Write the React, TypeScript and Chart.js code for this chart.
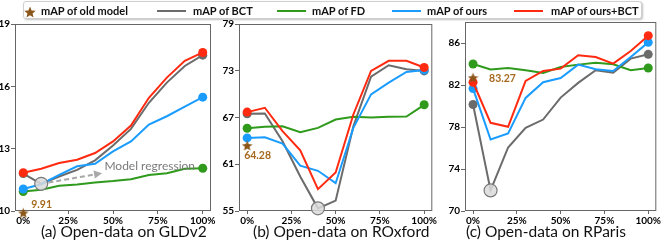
import React, { useEffect, useRef } from 'react';
import { Chart, registerables } from 'chart.js';
Chart.register(...registerables);

const FONT = 'Lato, "Open Sans", "Liberation Sans", sans-serif';

// ---------- data ----------
const xValues = [0, 10, 20, 30, 40, 50, 60, 70, 80, 90, 100];
const xTickValues = [0, 25, 50, 75, 100];

// (a) GLDv2
const gldTicks = [10, 13, 16, 19];
const gldBCT = [11.8, 11.31, 11.66, 11.98, 12.44, 13.15, 13.95, 15.21, 16.18, 16.98, 17.5];
const gldFD = [10.94, 11.02, 11.21, 11.27, 11.37, 11.44, 11.53, 11.73, 11.82, 12.03, 12.06];
const gldOurs = [11.06, 11.29, 11.74, 12.15, 12.27, 12.87, 13.35, 14.16, 14.56, 15.02, 15.48];
const gldOursBCT = [11.84, 12.03, 12.31, 12.47, 12.79, 13.35, 14.11, 15.45, 16.42, 17.23, 17.63];
const gldOld = 9.91;

// (b) ROxford
const oxfTicks = [55, 61, 67, 73, 79];
const oxfBCT = [67.47, 67.52, 63.95, 59.43, 55.34, 56.33, 65.88, 72.25, 73.71, 73.19, 72.98];
const oxfFD = [65.62, 65.8, 65.88, 65.11, 65.67, 66.74, 67.09, 67.0, 67.09, 67.13, 68.63];
const oxfOurs = [64.38, 64.46, 63.65, 60.81, 60.16, 58.57, 65.67, 69.97, 71.47, 72.85, 73.1];
const oxfOursBCT = [67.69, 68.25, 65.24, 62.78, 57.8, 59.95, 67.39, 72.98, 74.27, 74.27, 73.41];
const oxfOld = 63.4;

// (c) RParis
const parTicks = [70, 74, 78, 82, 86];
const parBCT = [80.14, 71.96, 76.05, 77.92, 78.71, 80.8, 82.2, 83.4, 83.18, 84.51, 84.92];
const parFD = [84.0, 83.47, 83.62, 83.4, 83.15, 83.72, 83.94, 84.13, 83.97, 83.4, 83.62];
const parOurs = [81.66, 76.81, 77.38, 80.77, 82.26, 82.67, 83.94, 83.5, 83.34, 84.67, 86.06];
const parOursBCT = [82.26, 78.4, 78.02, 82.39, 83.34, 83.56, 84.83, 84.67, 84.04, 85.24, 86.7];
const parOld = 82.7;

const legendLabels = ['mAP of old model', 'mAP of BCT', 'mAP of FD', 'mAP of ours', 'mAP of ours+BCT'];

// ---------- styles ----------
const C_BCT = '#6b6b6b';
const C_FD = '#2f9a1c';
const C_OURS = '#1a9cff';
const C_OURSBCT = '#ff2a10';
const C_STAR = '#8b561a';
const C_STARTXT = '#a5691f';

type PanelCfg = {
  title: string; titleLeft: number;
  canvasLeft: number; canvasTop: number; canvasW: number;
  plotL: number; plotR: number; plotT: number; plotB: number;
  yMin: number; yMax: number; yTicks: number[];
  bct: number[]; fd: number[]; ours: number[]; oursBct: number[];
  regIdx: number; old: number; oldLabel: string; labelDx: number; labelDy: number;
  arrow?: { from: [number, number]; to: [number, number]; text: string; textAt: [number, number] };
};

const panels: PanelCfg[] = [
  {
    title: '(a) Open-data on GLDv2', titleLeft: 41,
    canvasLeft: 0, canvasTop: 14, canvasW: 222,
    plotL: 15, plotR: 211, plotT: 24, plotB: 211,
    yMin: 10, yMax: 19, yTicks: gldTicks,
    bct: gldBCT, fd: gldFD, ours: gldOurs, oursBct: gldOursBCT,
    regIdx: 1, old: gldOld, oldLabel: '9.91', labelDx: 8, labelDy: -8,
    arrow: { from: [14, 11.37], to: [43.9, 11.82], text: 'Model regression', textAt: [45.2, 12.15] },
  },
  {
    title: '(b) Open-data on ROxford', titleLeft: 253,
    canvasLeft: 222, canvasTop: 14, canvasW: 218,
    plotL: 239, plotR: 435, plotT: 24, plotB: 211,
    yMin: 55, yMax: 79, yTicks: oxfTicks,
    bct: oxfBCT, fd: oxfFD, ours: oxfOurs, oursBct: oxfOursBCT,
    regIdx: 4, old: oxfOld, oldLabel: '64.28', labelDx: -3, labelDy: 10,
  },
  {
    title: '(c) Open-data on RParis', titleLeft: 466,
    canvasLeft: 440, canvasTop: 12, canvasW: 224,
    plotL: 465, plotR: 660, plotT: 22, plotB: 211,
    yMin: 70, yMax: 88, yTicks: parTicks,
    bct: parBCT, fd: parFD, ours: parOurs, oursBct: parOursBCT,
    regIdx: 1, old: parOld, oldLabel: '83.27', labelDx: 16, labelDy: 1,
  },
];

function makeStar(size: number, color: string) {
  const c = document.createElement('canvas');
  c.width = size; c.height = size;
  const ctx = c.getContext('2d')!;
  const cx = size / 2, cy = size / 2 + 0.6, R = size / 2, r = R * 0.45;
  ctx.beginPath();
  for (let i = 0; i < 10; i++) {
    const a = -Math.PI / 2 + (i * Math.PI) / 5;
    const rad = i % 2 === 0 ? R : r;
    ctx.lineTo(cx + rad * Math.cos(a), cy + rad * Math.sin(a));
  }
  ctx.closePath();
  ctx.fillStyle = color;
  ctx.fill();
  return c;
}

const pts = (vals: number[]) => vals.map((v, i) => ({ x: xValues[i], y: v }));
const endRadii = (vals: number[]) => vals.map((_, i) => (i === 0 || i === vals.length - 1 ? 4.5 : 0));

function Panel({ p }: { p: PanelCfg }) {
  const ref = useRef<HTMLCanvasElement>(null);
  const X_AXIS_H = 17;
  const canvasH = p.plotB - p.canvasTop + X_AXIS_H;
  useEffect(() => {
    const star = makeStar(11, C_STAR);
    const line = (vals: number[], color: string, order: number) => ({
      data: pts(vals), borderColor: color, backgroundColor: color, borderWidth: 2,
      pointRadius: endRadii(vals), pointHoverRadius: 0, pointBackgroundColor: color,
      pointBorderWidth: 0, tension: 0, clip: false, order, fill: false,
    });
    const boxPlugin = {
      id: 'box',
      beforeDatasetsDraw(chart: any) {
        const { ctx, chartArea: a } = chart;
        ctx.save();
        ctx.strokeStyle = '#666';
        ctx.lineWidth = 1;
        ctx.strokeRect(a.left + 0.5, a.top + 0.5, a.right - a.left - 1, a.bottom - a.top - 1);
        ctx.restore();
      },
      afterDatasetsDraw(chart: any) {
        const { ctx, scales } = chart;
        const xs = scales.x, ys = scales.y;
        ctx.save();
        ctx.font = `bold 10.5px ${FONT}`;
        ctx.fillStyle = C_STARTXT;
        ctx.textBaseline = 'middle';
        ctx.textAlign = 'left';
        ctx.fillText(p.oldLabel, xs.getPixelForValue(0) + p.labelDx, ys.getPixelForValue(p.old) + p.labelDy);
        if (p.arrow) {
          const x1 = xs.getPixelForValue(p.arrow.from[0]), y1 = ys.getPixelForValue(p.arrow.from[1]);
          const x2 = xs.getPixelForValue(p.arrow.to[0]), y2 = ys.getPixelForValue(p.arrow.to[1]);
          const ang = Math.atan2(y2 - y1, x2 - x1);
          const hl = 8, hw = 4;
          const bx = x2 - hl * Math.cos(ang), by = y2 - hl * Math.sin(ang);
          ctx.strokeStyle = '#a8a8a8';
          ctx.fillStyle = '#a8a8a8';
          ctx.lineWidth = 2;
          ctx.setLineDash([5, 3]);
          ctx.beginPath(); ctx.moveTo(x1, y1); ctx.lineTo(bx, by); ctx.stroke();
          ctx.setLineDash([]);
          ctx.beginPath();
          ctx.moveTo(x2, y2);
          ctx.lineTo(bx + hw * Math.sin(ang), by - hw * Math.cos(ang));
          ctx.lineTo(bx - hw * Math.sin(ang), by + hw * Math.cos(ang));
          ctx.closePath(); ctx.fill();
          ctx.font = `12px ${FONT}`;
          ctx.fillStyle = '#7a7a7a';
          ctx.fillText(p.arrow.text, xs.getPixelForValue(p.arrow.textAt[0]), ys.getPixelForValue(p.arrow.textAt[1]));
        }
        ctx.restore();
      },
    };
    const tickFont = { family: FONT, size: 10, weight: 'bold' as const };
    const chart = new Chart(ref.current!, {
      type: 'line',
      data: {
        datasets: [
          {
            data: [{ x: xValues[p.regIdx], y: p.bct[p.regIdx] }], showLine: false,
            pointRadius: 6.5, pointHoverRadius: 0, pointBackgroundColor: 'rgba(218,218,218,0.85)',
            pointBorderColor: '#7a7a7a', pointBorderWidth: 1.2, clip: false, order: 0,
          } as any,
          {
            data: [{ x: 0, y: p.old }], showLine: false, pointStyle: star, pointRadius: 6,
            pointHoverRadius: 0, clip: false, order: 0,
          } as any,
          line(p.oursBct, C_OURSBCT, 1),
          line(p.ours, C_OURS, 2),
          line(p.fd, C_FD, 3),
          line(p.bct, C_BCT, 4),
        ],
      },
      options: {
        responsive: false,
        animation: false,
        events: [],
        layout: {
          padding: {
            left: 0, bottom: 0,
            top: p.plotT - p.canvasTop,
            right: p.canvasLeft + p.canvasW - p.plotR,
          },
        },
        plugins: { legend: { display: false }, tooltip: { enabled: false }, title: { display: false } },
        scales: {
          x: {
            type: 'linear', min: -4.6, max: 104.6,
            afterBuildTicks: (axis: any) => { axis.ticks = xTickValues.map((v) => ({ value: v })); },
            afterFit: (s: any) => { s.height = X_AXIS_H; s.paddingLeft = 0; s.paddingRight = 0; },
            ticks: { callback: (v: any) => `${v}%`, font: tickFont, color: '#000', padding: 1, maxRotation: 0, autoSkip: false },
            grid: { drawOnChartArea: false, drawTicks: true, tickLength: 3, color: '#666' },
            border: { display: false },
          },
          y: {
            type: 'linear', min: p.yMin, max: p.yMax,
            afterBuildTicks: (axis: any) => { axis.ticks = p.yTicks.map((v) => ({ value: v })); },
            afterFit: (s: any) => { s.width = p.plotL - p.canvasLeft; s.paddingTop = 0; s.paddingBottom = 0; },
            ticks: { font: tickFont, color: '#000', padding: 1, autoSkip: false },
            grid: { drawOnChartArea: false, drawTicks: true, tickLength: 4, color: '#666' },
            border: { display: false },
          },
        },
      } as any,
      plugins: [boxPlugin],
    });
    return () => chart.destroy();
  }, []);
  return (
    <canvas
      ref={ref}
      width={p.canvasW}
      height={canvasH}
      style={{ position: 'absolute', left: p.canvasLeft, top: p.canvasTop, width: p.canvasW, height: canvasH }}
    />
  );
}

function LegendLine({ left, color }: { left: number; color: string }) {
  return <div style={{ position: 'absolute', left, top: 10, width: 29, height: 2, background: color }} />;
}
function LegendText({ left, text }: { left: number; text: string }) {
  return (
    <div style={{ position: 'absolute', left, top: 4.7, fontSize: 11, lineHeight: '12px', fontWeight: 'bold', whiteSpace: 'nowrap', color: '#111' }}>
      {text}
    </div>
  );
}

function Legend() {
  return (
    <>
      <div style={{ position: 'absolute', left: 23, top: 1, width: 617, height: 16, border: '1px solid #cfcfcf', borderRadius: 3, background: '#fff', boxShadow: '1px 1px 2px rgba(0,0,0,0.25)' }} />
      <svg style={{ position: 'absolute', left: 24, top: 6 }} width={12} height={12} viewBox="0 0 12 12">
        <polygon
          fill={C_STAR}
          points={Array.from({ length: 10 }, (_, i) => {
            const a = -Math.PI / 2 + (i * Math.PI) / 5;
            const r = i % 2 === 0 ? 6 : 2.7;
            return `${6 + r * Math.cos(a)},${6.6 + r * Math.sin(a)}`;
          }).join(' ')}
        />
      </svg>
      <LegendText left={41} text={legendLabels[0]} />
      <LegendLine left={157} color={C_BCT} />
      <LegendText left={193} text={legendLabels[1]} />
      <LegendLine left={277} color={C_FD} />
      <LegendText left={312} text={legendLabels[2]} />
      <LegendLine left={392} color={C_OURS} />
      <LegendText left={427} text={legendLabels[3]} />
      <LegendLine left={514} color={C_OURSBCT} />
      <LegendText left={551} text={legendLabels[4]} />
    </>
  );
}

export default function App() {
  return (
    <div style={{ position: 'absolute', left: 0, top: 0, width: 664, height: 244, background: '#fff', overflow: 'hidden', fontFamily: FONT }}>
      {panels.map((p) => (
        <Panel key={p.title} p={p} />
      ))}
      {panels.map((p) => (
        <div key={'t' + p.title} style={{ position: 'absolute', left: p.titleLeft, top: 222.5, fontSize: 15.5, lineHeight: '16px', fontWeight: 'normal', whiteSpace: 'nowrap', color: '#111' }}>
          {p.title}
        </div>
      ))}
      <Legend />
    </div>
  );
}
